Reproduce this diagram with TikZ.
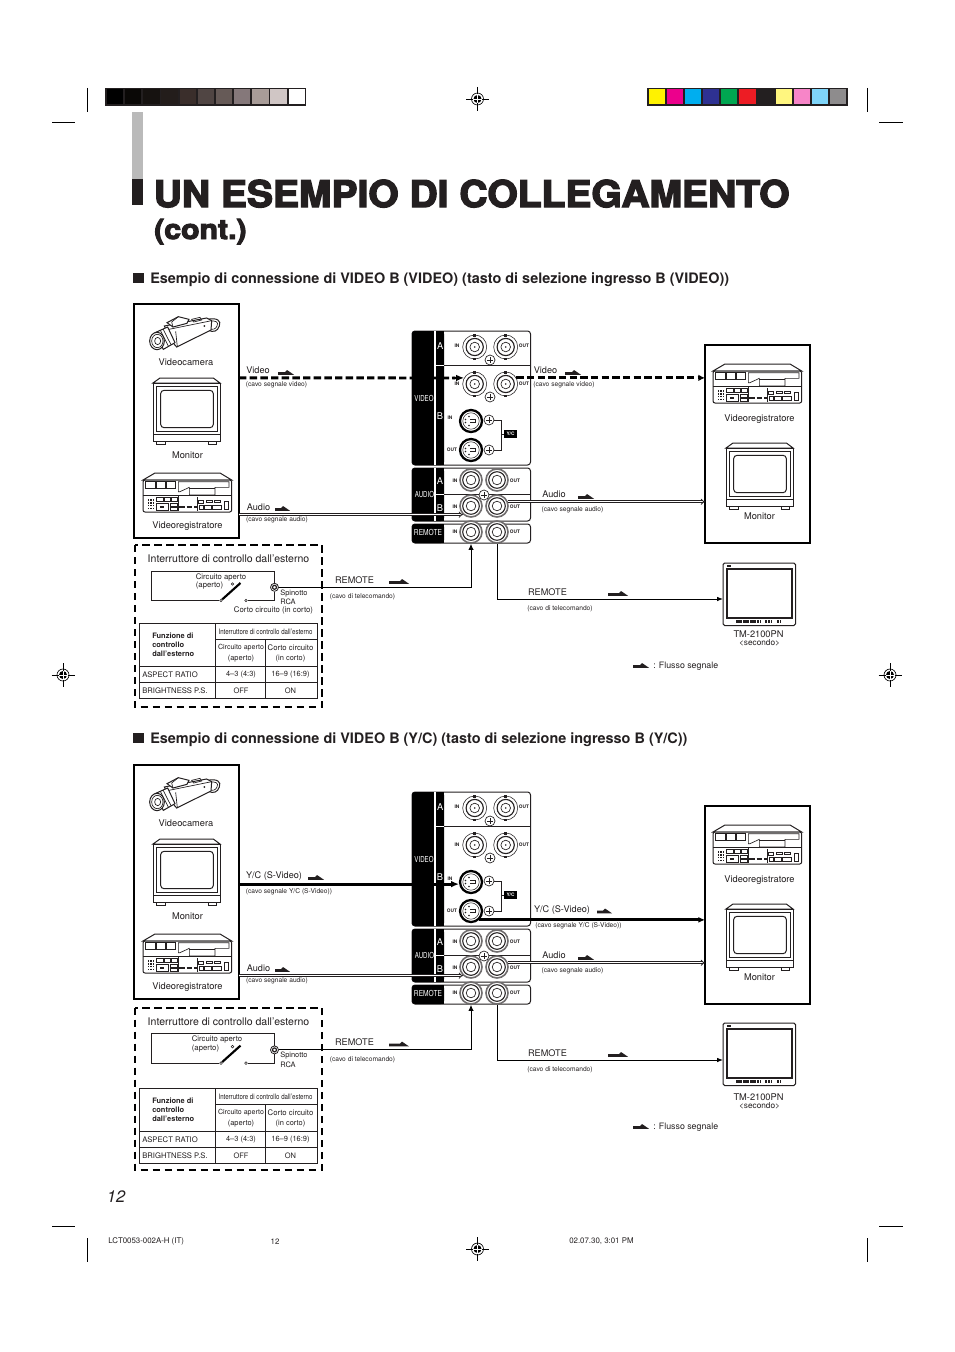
\documentclass[tikz,border=0pt]{standalone}
\usepackage{fontspec}
\usepackage{graphicx}
\usetikzlibrary{arrows.meta,calc}
\setmainfont{TeX Gyre Heros}
\newfontfamily\blkfont[UprightFeatures={FakeBold=3.6}]{TeX Gyre Heros Bold}
\definecolor{ink}{HTML}{231F20}
\newcommand{\fsz}[1]{\fontsize{#1}{#1}\selectfont}
\tikzset{
 lab/.style={inner sep=0pt,font=\fsz{6.85},text=ink},
 ttl/.style={inner sep=0pt,font=\fsz{7.9},text=ink},
 smalltxt/.style={inner sep=0pt,font=\fsz{5},text=ink,yshift=-.7pt},
 tbl/.style={inner sep=0pt,font=\fsz{5.75},text=ink},
 tblc/.style={inner sep=0pt,font=\fsz{5.6},text=ink},
 tblb/.style={inner sep=0pt,font=\bfseries\fsz{5.6},text=ink,align=left},
 devlab/.style={inner sep=0pt,font=\fsz{6.95},text=ink},
 port/.style={inner sep=0pt,font=\bfseries\fsz{3.6},text=ink},
 wlab/.style={inner sep=0pt,font=\fsz{6.2},text=white},
 wlabb/.style={inner sep=0pt,font=\fsz{7},text=white},
 thin1/.style={line width=.5pt,draw=ink},
 thin2/.style={line width=.75pt,draw=ink},
 thick3/.style={line width=2.2pt,draw=black},
 devbox/.style={rectangle,draw=black,line width=1.6pt,fill=white,inner sep=0pt,outer sep=0pt,anchor=north west},
 viddash/.style={line width=2.2pt,draw=black,dash pattern=on 5.6pt off 2.4pt},
 dbl/.style={line width=.6pt,double=white,double distance=.9pt,draw=ink},
 sig/.style={line width=.8pt,draw=black},
 wire/.style={line width=.75pt,draw=black},
 casing/.style={line width=4pt,draw=white},
 swdash/.style={line width=1.5pt,draw=black,dash pattern=on 5.6pt off 3.4pt},
 crop/.style={line width=.75pt,draw=black},
}
% flow mark: left, top of bar, width
\newcommand{\flowmark}[3]{\fill[ink] (#1,#2)--(#1,#2+2.8)--(#1+#3,#2+2.8)--(#1+#3-7,#2-2)--(#1+#3-9,#2)--cycle;}
% concentric ports
\newcommand{\bncport}[3]{%
 \node[circle,inner sep=0pt,minimum size=18pt,draw=ink,line width=.4pt,fill=white] (#1) at (#2,#3) {};
 \fill[ink] ($(#1)+(-1.5,-12.6)$) rectangle ($(#1)+(1.5,-10.5)$);
 \fill[ink] ($(#1)+(-1.5,12.6)$) rectangle ($(#1)+(1.5,10.5)$);
 \draw[line width=.85pt,draw=ink] (#1.center) circle[radius=8.6];
 \draw[line width=.5pt,draw=ink] (#1.center) circle[radius=4.8];
 \fill[ink] (#1.center) circle[radius=.9];
}
\newcommand{\rcaport}[3]{%
 \node[circle,inner sep=0pt,minimum size=16.5pt,draw=ink!65,line width=1.2pt,fill=white] (#1) at (#2,#3) {};
 \draw[line width=.8pt,draw=ink] (#1.center) circle[radius=8.3];
 \draw[line width=.5pt,draw=ink] (#1.center) circle[radius=4.8];
}
\newcommand{\sport}[3]{%
 \node[circle,inner sep=0pt,minimum size=16.5pt,draw=black,line width=1.7pt,fill=white] (#1) at (#2,#3) {};
 \draw[line width=.4pt,draw=ink] (#1.center) circle[radius=8.2];
 \fill[ink] ($(#1)+(-5.5,-1.5)$) circle[radius=.9];
 \fill[ink] ($(#1)+(-5.5,1.5)$) circle[radius=.9];
 \fill[ink] ($(#1)+(-2,-4.5)$) circle[radius=.9];
 \fill[ink] ($(#1)+(-2,4.5)$) circle[radius=.9];
 \draw[line width=.5pt,draw=ink] ($(#1)+(-1,-1.5)$)--($(#1)+(4,-1.5)$)--($(#1)+(4,1.5)$)--($(#1)+(-1,1.5)$);
}
\newcommand{\screw}[3]{%
 \node[circle,inner sep=0pt,minimum size=7.5pt,draw=ink,line width=.5pt,fill=white] (#1) at (#2,#3) {};
 \draw[line width=.6pt,draw=ink] ($(#1)+(-2.8,0)$)--($(#1)+(2.8,0)$) ($(#1)+(0,-2.8)$)--($(#1)+(0,2.8)$);
}
% devices, drawn in zoom units (1/3 px)
\newcommand{\camerapic}[2]{%
 \begin{scope}[shift={(#1,#2)},scale=1/3]
 \draw[thin2,fill=white] (188,22) .. controls (215,16) and (230,26) .. (223,42) .. controls (218,58) and (205,62) .. (190,55);
 \draw[thin1] (192,28) .. controls (212,24) and (222,30) .. (216,42) .. controls (212,52) and (203,54) .. (192,50);
 \draw[thin2,fill=white] (58,42)--(185,18)--(200,26)--(198,54)--(95,105)--(80,88)--cycle;
 \draw[thin1] (72,52)--(200,26);
 \draw[thin1] (92,58)--(97,104);
 \draw[thin2,fill=white] (66,32)--(100,14)--(132,22)--(126,34)--(84,45)--cycle;
 \draw[thin1] (84,45)--(80,30)--(100,14);
 \draw[thin1] (140,22)--(165,16)--(170,24)--(146,30)--cycle;
 \fill[ink] (178,42) circle[radius=3];
 \draw[thin2,fill=white] (30,62)--(68,45)--(90,92)--(55,112)--cycle;
 \draw[thin1] (46,55)--(70,102);
 \draw[thin1] (54,51)--(78,98);
 \draw[thin2,fill=white] (36,87) ellipse[x radius=22,y radius=26];
 \draw[thin1] (37,87) ellipse[x radius=17,y radius=20];
 \draw[thin1] (38,87) ellipse[x radius=9,y radius=11];
 \end{scope}
}
\newcommand{\monitorpic}[2]{%
 \begin{scope}[shift={(#1,#2)},scale=1/3,shift={(-69,-233)}]
 \draw[thin2,fill=white] (69,248)--(90,233)--(250,233)--(270,248)--cycle;
 \draw[thin1,fill=white] (80,422) rectangle (105,431);
 \draw[thin1,fill=white] (234,422) rectangle (258,431);
 \draw[thin2,fill=white] (69,248) rectangle (270,422);
 \draw[thin1] (69,402)--(270,402);
 \draw[thin2] (80,258) rectangle (262,394);
 \draw[thin2,rounded corners=2.5pt] (92,270) rectangle (250,382);
 \end{scope}
}
\newcommand{\vcrpic}[2]{%
 \begin{scope}[shift={(#1,#2)},scale=1/3,shift={(-39,-519)}]
 \draw[thin2,fill=white] (39,540)--(75,519)--(270,519)--(305,540)--cycle;
 \draw[thin2,fill=white,rounded corners=1.5pt] (39,540) rectangle (305,636);
 \draw[thin1] (47,545) rectangle (77,565) (80,545) rectangle (107,565) (110,545) rectangle (137,565);
 \draw[thin1] (145,545)--(297,545)--(297,562)--(255,562)--(255,585)--(178,585)--(178,562)--(150,575)--(145,575)--cycle;
 \draw[thin1] (178,565)--(255,565);
 \draw[thin1] (39,587)--(305,587);
 \draw[thin1] (145,587)--(145,634);
 \draw[thin1] (202,592)--(202,634);
 \draw[line width=.9pt,draw=ink,dash pattern=on 1.2pt off 1pt] (55,597)--(55,632) (63,597)--(63,632) (71,597)--(71,632);
 \draw[thin1] (80,592) rectangle (99,604) (103,592) rectangle (120,604) (125,592) rectangle (141,604);
 \draw[thin1] (80,610) rectangle (115,630) (120,610) rectangle (141,618) (120,622) rectangle (141,630);
 \fill[ink] (90,618) rectangle (102,624);
 \draw[line width=1.4pt,draw=ink,dash pattern=on 4pt off 1.5pt] (148,622)--(200,622);
 \draw[thin1] (206,600) rectangle (219,610) (228,600) rectangle (247,607) (252,600) rectangle (271,607);
 \draw[thin1] (208,617) rectangle (220,628) (224,617) rectangle (245,627) (247,617) rectangle (273,627);
 \draw[thin1] (283,605) rectangle (295,628);
 \end{scope}
}
\newcommand{\tmpic}[2]{%
 \begin{scope}[shift={(#1,#2)}]
 \draw[thin2,fill=white,rounded corners=1.2pt] (0,0) rectangle (72.5,62.5);
 \draw[thin1] (3,5) rectangle (69.5,55.5);
 \draw[thin2] (4,6.5) rectangle (68,54);
 \fill[ink] (3.5,1.5) rectangle (8,3.5);
 \draw[line width=1.6pt,draw=ink,dash pattern=on 2pt off .6pt] (13,58.5)--(38,58.5);
 \draw[line width=1.6pt,draw=ink,dash pattern=on 1.5pt off .8pt] (42,58.5)--(49,58.5) (54,58.5)--(58,58.5);
 \end{scope}
}
% connector panel
\newcommand{\panelparts}{%
 \draw[thin2,fill=white,rounded corners=2.2pt] (412,331) rectangle (530.5,465);
 \fill[black,rounded corners=2.2pt] (444,331)--(412,331)--(412,465)--(444,465)--cycle;
 \fill[black] (430,331) rectangle (444,465);
 \draw[white,line width=.8pt] (435,331)--(435,465) (435,365.5)--(444,365.5);
 \draw[thin2] (444,365.5)--(530.5,365.5);
 \node[wlabb] at (440.3,346) {A};
 \node[wlabb] at (440,416) {B};
 \node[wlab] at (424,398) {\scalebox{.74}[1]{VIDEO}};
 \draw[thin2,fill=white,rounded corners=2.2pt] (412,468) rectangle (530.5,521);
 \fill[black,rounded corners=2.2pt] (444,468)--(412,468)--(412,521)--(444,521)--cycle;
 \fill[black] (430,468) rectangle (444,521);
 \draw[white,line width=.8pt] (435,468)--(435,521) (435,494.5)--(444,494.5);
 \draw[thin2] (444,494.5)--(530.5,494.5);
 \node[wlabb] at (440,481) {A};
 \node[wlabb] at (440,508) {B};
 \node[wlab] at (424.5,494) {\scalebox{.74}[1]{AUDIO}};
 \draw[thin2,fill=white,rounded corners=2.2pt] (412,524) rectangle (530.5,543);
 \fill[black,rounded corners=2.2pt] (444,524)--(412,524)--(412,543)--(444,543)--cycle;
 \fill[black] (430,524) rectangle (444,543);
 \node[wlab] at (428,532.3) {\scalebox{.8}[1]{REMOTE}};
 \bncport{vain}{474.7}{347}\bncport{vaout}{505.7}{347}
 \bncport{vbin}{474.7}{384}\bncport{vbout}{505.7}{384}
 \screw{sc1}{490}{360}\screw{sc2}{490}{397}
 \sport{sin}{471}{421}\sport{sout}{471}{450}
 \screw{sc3}{489}{420}\screw{sc4}{489}{450}
 \node[fill=black,inner sep=0pt,minimum width=10pt,minimum height=6pt,text=white,font=\bfseries\fsz{3.6}] (yc) at (510.5,434) {Y/C};
 \draw[line width=.4pt,draw=ink] (sc3.east)-|(501,450)--(sc4.east) (501,434)--(yc.west);
 \rcaport{aain}{471}{480}\rcaport{aaout}{497}{480}
 \rcaport{abin}{471}{506}\rcaport{about}{497}{506}
 \screw{sc5}{484}{495}
 \rcaport{rin}{471}{532}\rcaport{rout}{497}{532}
 \foreach \y in {346,384} {\node[port] at (457,\y) {IN}; \node[port] at (524,\y) {OUT};}
 \node[port] at (450,417.5) {IN};
 \node[port] at (452,449.5) {OUT};
 \foreach \y in {481,507,532} {\node[port] at (455,\y) {IN}; \node[port] at (515,\y) {OUT};}
}
\newcommand{\devices}{%
 \node[devbox,minimum width=78.75pt,minimum height=175.5pt] (lb) at (134,304) {};
 \node[devbox,minimum width=78.75pt,minimum height=148.5pt] (rb) at (705,345) {};
 \camerapic{145}{312}
 \monitorpic{153}{378}
 \vcrpic{143}{473}
 \vcrpic{713}{364}
 \monitorpic{726}{443}
 \node[devlab] (l1) at (186,362) {Videocamera};
 \node[devlab] (l2) at (187.5,455) {Monitor};
 \node[devlab] (l3) at (187.5,526) {Videoregistratore};
 \node[devlab] (l4) at (759.5,419) {Videoregistratore};
 \node[devlab] (l5) at (759.5,516) {Monitor};
}
\newcommand{\swtable}[1]{%
 \begin{scope}[shift={(0,#1)}]
 \draw[thin2] (139.5,623) rectangle (317.5,698.5);
 \draw[thin2] (215,623)--(215,698.5) (265.5,639)--(265.5,698.5) (215,639)--(317.5,639) (139.5,666)--(317.5,666) (139.5,682.5)--(317.5,682.5);
 \node[tblb,anchor=west] (t1) at (152,635.5) {Funzione di};
 \node[tblb,anchor=west] (t2) at (152,644.5) {controllo};
 \node[tblb,anchor=west] (t3) at (152,653.5) {dall'esterno};
 \node[inner sep=0pt,text=ink] (t4) at (265.5,631.5) {\scalebox{.82}[1]{\fsz{5.6}Interruttore di controllo dall'esterno}};
 \node[tblc,font=\fsz{5.3}] (t5) at (241,647.5) {Circuito aperto};
 \node[tblc] (t6) at (241,658.5) {(aperto)};
 \node[tblc,font=\fsz{5.8}] (t7) at (290.5,647.5) {Corto circuito};
 \node[tblc] (t8) at (290.5,658.5) {(in corto)};
 \node[tbl,anchor=west] (t9) at (142,674.5) {ASPECT RATIO};
 \node[tblc] (t10) at (241,674.5) {4--3 (4:3)};
 \node[tblc] (t11) at (290.5,674.5) {16--9 (16:9)};
 \node[tbl,anchor=west] (t12) at (142,690.5) {BRIGHTNESS P.S.};
 \node[tblc] (t13) at (241,690.5) {OFF};
 \node[tblc] (t14) at (290.5,690.5) {ON};
 \end{scope}
}
\newcommand{\swbox}{%
 \draw[swdash] (134.5,545) rectangle (322,707);
 \node[ttl] (st) at (228.5,559) {Interruttore di controllo dall'esterno};
 \node[circle,draw=ink,line width=.6pt,fill=white,inner sep=0pt,minimum size=6pt] (jack) at (274.5,587.3) {};
 \draw[line width=.9pt,draw=ink] (jack.center) circle[radius=2];
 \node[circle,draw=ink,line width=.4pt,fill=white,inner sep=0pt,minimum size=2pt] (piv) at (221,600.5) {};
 \node[circle,draw=ink,line width=.4pt,fill=white,inner sep=0pt,minimum size=2pt] (ca) at (232.5,584) {};
 \node[circle,draw=ink,line width=.4pt,fill=white,inner sep=0pt,minimum size=2pt] (cb) at (246,600.5) {};
 \draw[thin2] (piv)--(151,600.5)--(151,571)--(274.5,571)--(jack.north);
 \draw[thin2] (jack.south)--(274.5,600.5)--(cb);
 \draw[line width=1.6pt,draw=black] (piv)--(240.5,583);
 \node[inner sep=0pt,text=ink,anchor=west,font=\fsz{5.6}] (sp) at (280,593.3) {Spinotto};
 \node[inner sep=0pt,text=ink,anchor=west,font=\fsz{5.6}] (rc) at (280,602) {RCA};
}
\begin{document}
\begin{tikzpicture}[x=.75pt,y=-.75pt]
\useasboundingbox (0,0) rectangle (954,1352);
\fill[white] (0,0) rectangle (954,1352);
% ------- printer marks
\draw[crop] (87.5,88)--(87.5,112) (867.5,88)--(867.5,112) (87.5,1238)--(87.5,1262) (867.5,1238)--(867.5,1262);
\draw[crop] (52,123)--(75,123) (879,123)--(903,123) (52,1226)--(75,1226) (879,1226)--(903,1226);
\foreach \mx/\my in {477.5/99,63/675,890/675,477.5/1249} {
 \draw[line width=.35pt,draw=black] (\mx-11.5,\my)--(\mx+11.5,\my) (\mx,\my-12)--(\mx,\my+12);
 \draw[line width=.5pt,draw=black] (\mx,\my) circle[radius=6];
 \fill[black] (\mx,\my) circle[radius=4];
 \draw[line width=.5pt,draw=white] (\mx-4.5,\my)--(\mx+4.5,\my) (\mx,\my-4.5)--(\mx,\my+4.5);
}
\fill[ink] (105,88) rectangle (306,106);
\foreach \i/\c in {0/000000,1/0A0806,2/161210,3/231D1B,4/3A2E2B,5/504543,6/665A57,7/85787A,8/A89C98,9/D0C6C5,10/FFFFFF} {
 \definecolor{cc}{HTML}{\c}
 \fill[cc] (107+18.16*\i,89.5) rectangle (123.3+18.16*\i,104.5);
}
\fill[ink] (647,88) rectangle (848,106);
\foreach \i/\c in {0/FFF200,1/EC008C,2/00AEEF,3/2E3192,4/00A651,5/ED1C24,6/231F20,7/FFF67F,8/F785C8,9/7FD5F9,10/8E8C8D} {
 \definecolor{cc}{HTML}{\c}
 \fill[cc] (648.5+18.16*\i,89.5) rectangle (664.8+18.16*\i,104.5);
}
\fill[black!27] (132,112) rectangle (143,179);
\fill[ink] (132,179) rectangle (143,205);
% ------- titles
\node[inner sep=0pt,anchor=base west,text=ink] (title) at (153.5,207) {\scalebox{1.06}[1]{\blkfont\fsz{27.6}UN ESEMPIO DI COLLEGAMENTO}};
\node[inner sep=0pt,anchor=base west,text=ink] (cont) at (154,239) {\scalebox{1.1}[1]{\blkfont\fsz{20.6}(cont.)}};
\fill[ink] (133,273) rectangle (144,283);
\node[inner sep=0pt,anchor=base west,font=\bfseries\fsz{10.82},text=ink] (h1) at (150,283) {Esempio di connessione di VIDEO B (VIDEO) (tasto di selezione ingresso B (VIDEO))};
\fill[ink] (133,733) rectangle (144,743);
\node[inner sep=0pt,anchor=base west,font=\bfseries\fsz{10.82},text=ink] (h2) at (150,743) {Esempio di connessione di VIDEO B (Y/C) (tasto di selezione ingresso B (Y/C))};
% ------- first diagram
\begin{scope}[name prefix=a-]
 \devices
 \swbox
 \swtable{0}
 \node[inner sep=0pt,text=ink,font=\fsz{5.85}] (cc) at (273.5,610.5) {Corto circuito (in corto)};
 \node[inner sep=0pt,text=ink,font=\fsz{5.8}] (ca1) at (221,577.5) {Circuito aperto};
 \node[inner sep=0pt,text=ink,font=\fsz{5.8}] (ca2) at (209.5,585.5) {(aperto)};
 \node[rectangle,draw=none,inner sep=0pt,outer sep=0pt,minimum width=54.4pt,minimum height=46.9pt,anchor=north west] (tm) at (723,563) {};
 \tmpic{723}{563}
 \node[devlab] (tm1) at (758.5,634) {TM-2100PN};
 \node[devlab,font=\fsz{6.2}] (tm2) at (759.5,643) {<secondo>};
 \draw[casing] (412,378)--(444,378);
 \draw[casing] (412,514)--(444,514);
 \panelparts
 \draw[viddash] (lb.east |- vbin.150)--(455,378);
 \draw[sig,-{Latex[length=6pt,width=5pt]},line width=1.6pt] (452,378)--(vbin.150);
 \draw[viddash,-{Latex[length=5pt,width=5pt]}] (vbout.30)--(rb.west |- vbout.30);
 \draw[dbl,-{Implies[length=3pt]}] (lb.east |- abin.227)--(abin.227);
 \draw[dbl,-{Implies[length=3pt]}] (about.21)--(rb.west |- about.21);
 \draw[wire,-{Latex[length=4.5pt,width=4pt]}] (jack.east)-|(rin.south);
 \coordinate (rr) at (497,599);
 \draw[wire,-{Latex[length=4.5pt,width=3.5pt]}] (rout.south)--(rr)--(rr -| tm.west);
 \node[lab] (e1) at (258,370) {Video};
 \flowmark{278}{372}{16}
 \node[smalltxt] (e2) at (276.5,384) {(cavo segnale video)};
 \node[lab] (e3) at (545.5,370) {Video};
 \flowmark{565}{372}{16}
 \node[smalltxt] (e4) at (564,384) {(cavo segnale video)};
 \node[lab] (e5) at (258.5,507) {Audio};
 \flowmark{275}{508}{15}
 \node[smalltxt] (e6) at (277,519) {(cavo segnale audio)};
 \node[lab] (e7) at (554,494) {Audio};
 \flowmark{578}{496}{16}
 \node[smalltxt] (e8) at (572.5,509) {(cavo segnale audio)};
 \node[lab] (e9) at (354.5,580) {REMOTE};
 \flowmark{389}{581}{20}
 \node[smalltxt] (e10) at (362.5,596) {(cavo di telecomando)};
 \node[lab] (e11) at (547.5,592) {REMOTE};
 \flowmark{608}{593}{20}
 \node[smalltxt] (e12) at (560,608) {(cavo di telecomando)};
 \flowmark{633}{665}{16}
 \node[lab,font=\fsz{6.6},anchor=west] (e13) at (653,666) {: Flusso segnale};
\end{scope}
% ------- second diagram
\begin{scope}[name prefix=b-,shift={(0,461)}]
 \devices
 \node[rectangle,draw=none,inner sep=0pt,outer sep=0pt,minimum width=54.4pt,minimum height=46.9pt,anchor=north west] (tm) at (723,562) {};
 \tmpic{723}{562}
 \node[devlab] (tm1) at (758.5,636) {TM-2100PN};
 \node[devlab,font=\fsz{6.2}] (tm2) at (759.5,645) {<secondo>};
 \draw[casing] (412,423)--(444,423);
 \draw[casing] (412,514)--(444,514);
 \panelparts
 \draw[thick3,-{Latex[length=6pt,width=5pt]}] (lb.east |- sin.190)--(sin.190);
 \draw[thick3,-{Latex[length=5pt,width=4.5pt]}] (sout.313)--(rb.west |- sout.313);
 \draw[dbl,-{Implies[length=3pt]}] (lb.east |- abin.227)--(abin.227);
 \draw[dbl,-{Implies[length=3pt]}] (about.21)--(rb.west |- about.21);
 \node[lab] (e1) at (274,415) {Y/C (S-Video)};
 \flowmark{308}{416}{16}
 \node[smalltxt] (e2) at (289,430) {(cavo segnale Y/C (S-Video))};
 \node[lab] (e3) at (562,449.5) {Y/C (S-Video)};
 \flowmark{597}{449.5}{15}
 \node[smalltxt] (e4) at (578.5,464) {(cavo segnale Y/C (S-Video))};
 \node[lab] (e5) at (258.5,507) {Audio};
 \flowmark{275}{508}{15}
 \node[smalltxt] (e6) at (277,519) {(cavo segnale audio)};
 \node[lab] (e7) at (554,494) {Audio};
 \flowmark{578}{496}{16}
 \node[smalltxt] (e8) at (572.5,509) {(cavo segnale audio)};
 \node[lab] (e11) at (547.5,592) {REMOTE};
 \flowmark{608}{593}{20}
 \node[smalltxt] (e12) at (560,608) {(cavo di telecomando)};
 \flowmark{633}{665}{16}
 \node[lab,font=\fsz{6.6},anchor=west] (e13) at (653,666) {: Flusso segnale};
 \coordinate (rr) at (497,599);
 \draw[wire,-{Latex[length=4.5pt,width=3.5pt]}] (rout.south)--(rr)--(rr -| tm.west);
\end{scope}
\begin{scope}[name prefix=c-,shift={(0,462.6)}]
 \swbox
 \node[inner sep=0pt,text=ink,font=\fsz{5.8}] (ca1) at (217,577) {Circuito aperto};
 \node[inner sep=0pt,text=ink,font=\fsz{5.8}] (ca2) at (205.5,585.5) {(aperto)};
 \node[lab] (e9) at (354.5,580) {REMOTE};
 \flowmark{389}{581}{20}
 \node[smalltxt] (e10) at (362.5,596) {(cavo di telecomando)};
\end{scope}
\swtable{465}
\draw[wire,-{Latex[length=4.5pt,width=4pt]}] (c-jack.east)-|(b-rin.south);
% ------- footer
\node[inner sep=0pt,font=\itshape\fsz{12.4},text=ink] (pg) at (116,1196.5) {12};
\node[inner sep=0pt,anchor=west,font=\fsz{5.9},text=ink] (f1) at (108,1241.5) {LCT0053-002A-H (IT)};
\node[inner sep=0pt,font=\fsz{5.9},text=ink] (f2) at (275,1241.5) {12};
\node[inner sep=0pt,anchor=west,font=\fsz{5.9},text=ink] (f3) at (569,1241.5) {02.07.30, 3:01 PM};
\end{tikzpicture}
\end{document}
